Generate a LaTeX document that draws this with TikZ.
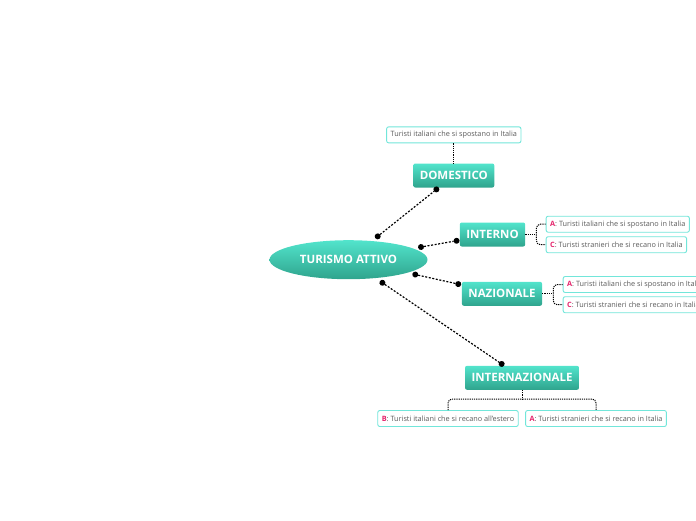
\documentclass[tikz,border=0pt]{standalone}
\usepackage{fontspec}
\setmainfont{Open Sans}
\usepackage{tikz}
\usetikzlibrary{positioning,arrows.meta,shapes.geometric,calc}
\definecolor{tealtop}{HTML}{52E4CC}
\definecolor{tealbot}{HTML}{2FA48D}
\definecolor{leafline}{HTML}{72E6DA}
\definecolor{leaftext}{HTML}{5A5A5A}
\definecolor{tag}{HTML}{E5236B}
\newcommand{\tagged}[2]{\textcolor{tag}{\textbf{#1}}: #2}

\begin{document}
\begin{tikzpicture}[x=1pt,y=-1pt,
   topic/.style={rectangle,rounded corners=2pt,top color=tealtop,bottom color=tealbot,
     draw=none,text=white,font=\fontsize{11.5}{13}\selectfont\bfseries,
     minimum height=24pt,inner xsep=6.5pt,inner ysep=0pt},
   hub/.style={ellipse,top color=tealtop,bottom color=tealbot,draw=none,text=white,
     font=\fontsize{11.5}{13}\selectfont\bfseries,minimum width=158pt,minimum height=39pt,inner sep=0pt},
   leaf/.style={rectangle,rounded corners=2pt,draw=leafline,line width=0.9pt,fill=white,
     text=leaftext,font=\fontsize{7.3}{8.5}\selectfont,minimum height=16pt,inner xsep=4pt,inner ysep=0pt},
   link/.style={line width=1.2pt,dash pattern=on 2pt off 1.6pt,
     {Circle[length=6pt,line width=0pt]}-{Circle[length=6pt,line width=0pt]}},
   brace/.style={line width=1pt,dash pattern=on 1.2pt off 1pt,rounded corners=4pt}]
  \useasboundingbox (0,0) rectangle (696,520);

  % centre and branches
  \node[hub] (main) at (348.5,259.7) {TURISMO ATTIVO};
  \node[topic] (dom) at (453.8,175.5) {DOMESTICO};
  \node[topic] (inter) at (492.5,234.5) {INTERNO};
  \node[topic] (naz) at (502,293.8) {NAZIONALE};
  \node[topic] (intl) at (522,377.8) {INTERNAZIONALE};

  % leaves
  \node[leaf] (dom1) [above=20pt of dom] {Turisti italiani che si spostano in Italia};
  \node[leaf,anchor=west] (int1) at (545.7,224.2) {\tagged{A}{Turisti italiani che si spostano in Italia}};
  \node[leaf,anchor=west] (int2) at (545.7,244.7) {\tagged{C}{Turisti stranieri che si recano in Italia}};
  \node[leaf,anchor=west] (naz1) at (562.7,284.5) {\tagged{A}{Turisti italiani che si spostano in Italia}};
  \node[leaf,anchor=west] (naz2) at (562.7,304.7) {\tagged{C}{Turisti stranieri che si recano in Italia}};
  \node[leaf] (intl1) at (448,418.5) {\tagged{B}{Turisti italiani che si recano all'estero}};
  \node[leaf] (intl2) at (596,418.5) {\tagged{A}{Turisti stranieri che si recano in Italia}};

  \draw[link] ($(main)!0.255!(dom)$) -- ($(main)!0.857!(dom)$);
  \draw[link] ($(main)!0.483!(inter)$) -- ($(main)!0.771!(inter)$);
  \draw[link] ($(main)!0.416!(naz)$) -- ($(main)!0.734!(naz)$);
  \draw[link] ($(main)!0.181!(intl)$) -- ($(main)!0.897!(intl)$);

  \draw[brace] (dom1) -- (dom);
  \draw[brace] (inter.east) -- ++(11,0) coordinate (intj);
  \draw[brace] (int1.west) -| (intj) |- (int2.west);
  \draw[brace] (naz.east) -- ++(11,0) coordinate (nazj);
  \draw[brace] (naz1.west) -| (nazj) |- (naz2.west);
  \draw[brace] (intl.south) -- ++(0,9) coordinate (intlj);
  \draw[brace] (intl1.north) |- (intlj) -| (intl2.north);
\end{tikzpicture}
\end{document}
